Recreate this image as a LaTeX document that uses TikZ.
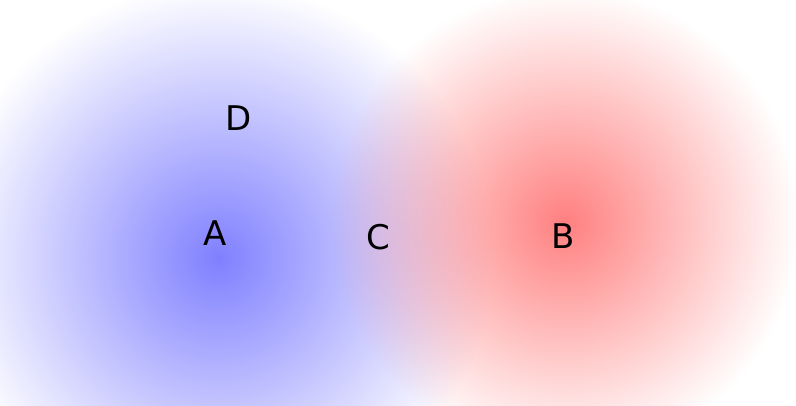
\documentclass[tikz,border=0pt]{standalone}
\usepackage{fontspec}
\setmainfont{DejaVu Sans}
\usetikzlibrary{fadings}
\tikzfading[name=softdisc, inner color=transparent!0, outer color=transparent!100]
\tikzset{
  glow/.style ={path fading=softdisc},
  lbl/.style  ={font=\fontsize{34}{34}\selectfont, inner sep=0pt},
}

\begin{document}
\begin{tikzpicture}[x=1pt,y=-1pt]
\useasboundingbox (0,0) rectangle (796,405);
% the two soft discs
\coordinate (cA) at (218,258);
\coordinate (cB) at (565,222);
\fill[blue!50, glow] (cA) circle (275);
\fill[red!50, glow] (cB) circle (235);
% labels
\node[lbl] (A) at (215,233) {A};
\node[lbl] (B) at (563,236) {B};
\node[lbl] (C) at (378,237) {C};
\node[lbl] (D) at (239,118) {D};
\end{tikzpicture}
\end{document}
